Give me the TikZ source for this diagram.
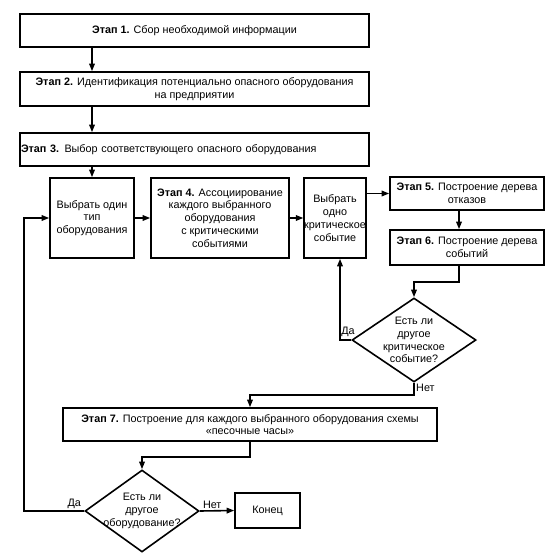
\documentclass[tikz,border=0pt]{standalone}
\usepackage{fontspec}
\setmainfont{Liberation Sans}
\usetikzlibrary{arrows.meta,shapes.geometric,calc}
\newcommand\fsz{\fontsize{10.8}{12.8}\selectfont}
\begin{document}
\begin{tikzpicture}[x=1pt,y=-1pt,
  box/.style={draw, line width=1.6pt, inner sep=1pt, align=center, font=\fsz},
  dia/.style={draw, diamond, line width=1.6pt, inner sep=0pt},
  dtext/.style={align=center, font=\fsz, inner sep=0pt},
  lbl/.style={font=\fsz, inner sep=1pt},
  arr/.style={line width=1.6pt, -{Triangle[length=7.5pt,width=5.5pt]}}]
\useasboundingbox (0,0) rectangle (556,556);
\fill[white] (0,0) rectangle (556,556);
\node[box, minimum width=349pt, minimum height=33pt] (b1) at (194.5,30.5) {\textbf{Этап 1.} Сбор необходимой информации};
\node[box, minimum width=349pt, minimum height=34pt] (b2) at (194.5,89) {\textbf{Этап 2.} Идентификация потенциально опасного оборудования\\на предприятии};
\node[box, minimum width=349pt, minimum height=33pt, text width=347pt, inner xsep=0pt, align=left] (b3) at (194.5,149.5) {\textbf{Этап 3.} Выбор соответствующего опасного оборудования};
\node[box, minimum width=84pt, minimum height=80pt] (s1) at (92,218) {Выбрать один\\тип\\оборудования};
\node[box, minimum width=138pt, minimum height=80pt] (b4) at (220,218) {\textbf{Этап 4.} Ассоциирование\\каждого выбранного\\оборудования\\с критическими\\событиями};
\node[box, minimum width=60pt, minimum height=80pt, inner sep=0pt] (s2) at (335,218) {Выбрать\\одно\\критическое\\событие};
\node[box, minimum width=154pt, minimum height=33pt] (b5) at (467,193.5) {\textbf{Этап 5.} Построение дерева\\отказов};
\node[box, minimum width=154pt, minimum height=35pt] (b6) at (467,247.5) {\textbf{Этап 6.} Построение дерева\\событий};
\node[dia, minimum width=124pt, minimum height=84pt] (d1) at (414,340) {};
\node[dtext] (d1t) at (d1.center) {Есть ли\\другое\\критическое\\событие?};
\node[box, minimum width=374pt, minimum height=33pt] (b7) at (250,424.5) {\textbf{Этап 7.} Построение для каждого выбранного оборудования схемы\\«песочные часы»};
\node[dia, minimum width=114pt, minimum height=82pt] (d2) at (142,511) {};
\node[dtext] (d2t) at (d2.center) {Есть ли\\другое\\оборудование?};
\node[box, minimum width=65pt, minimum height=35pt] (end) at (267.5,510.5) {Конец};
\coordinate (L) at (24,0);
% connectors
\draw[arr] (b1.south -| s1.north) -- (b2.north -| s1.north);
\draw[arr] (b2.south -| s1.north) -- (b3.north -| s1.north);
\draw[arr] (b3.south -| s1.north) -- (s1.north);
\draw[arr] (s1.east) -- (b4.west);
\draw[arr] (b4.east) -- (s2.west);
\draw[arr] (s2.east |- b5.west) -- (b5.west);
\coordinate (c56) at ([xshift=-8pt]b5.south);
\draw[arr] (c56) -- (c56 |- b6.north);
\draw[arr] ([xshift=-8pt]b6.south) -- ++(0,16) -| (d1.north);
\draw[arr] (d1.west) -| ([xshift=5pt]s2.south);
\node[lbl, anchor=south west] (da1) at ([xshift=-11pt,yshift=2pt]d1.west) {Да};
\draw[arr] (d1.south) -- ++(0,12) -| (b7.north);
\node[lbl, anchor=north west] (net1) at ([xshift=1pt]d1.south) {Нет};
\draw[arr] (b7.south) -- ++(0,15) -| (d2.north);
\draw[arr] (d2.east) -- (end.west);
\node[lbl, anchor=south west] (net2) at ([xshift=2pt,yshift=1pt]d2.east) {Нет};
\draw[arr] (d2.west) -- (d2.west -| L) |- (s1.west);
\node[lbl, anchor=south east] (da2) at ([xshift=-2pt,yshift=1pt]d2.west) {Да};
\end{tikzpicture}
\end{document}
